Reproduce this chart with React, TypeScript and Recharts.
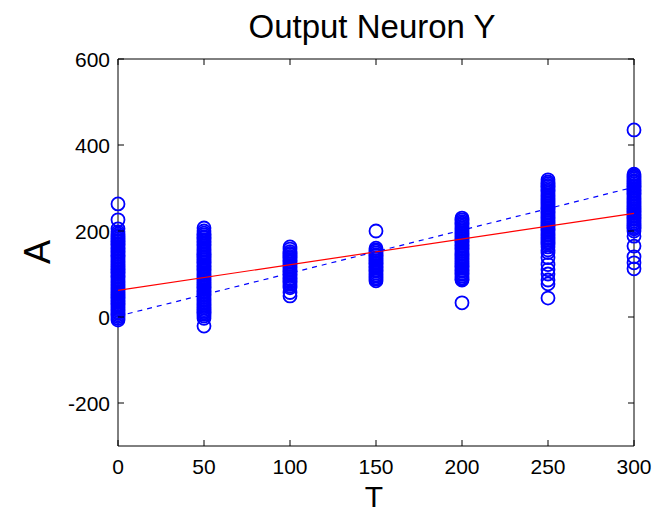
import { ScatterChart, Scatter, XAxis, YAxis } from "recharts";

// responses of output neuron Y (A) for each input level T
const tLevels = [0, 50, 100, 150, 200, 250, 300];

const a0 = [263, 226, 205, 198, 193, 189, 186, 182, 178, 175, 171, 168, 164, 160, 157, 153, 150, 146, 142, 139, 135, 131, 128, 124, 121, 117, 113, 110, 106, 103, 99, 95, 92, 88, 84, 81, 77, 74, 70, 66, 63, 59, 56, 52, 48, 45, 41, 37, 34, 30, 27, 23, 19, 16, 12, 9, 5, 1, -3, -7];
const a50 = [207, 200, 195, 191, 187, 184, 180, 176, 173, 169, 166, 162, 158, 155, 151, 147, 144, 140, 137, 133, 129, 126, 122, 118, 115, 111, 108, 104, 100, 97, 93, 89, 86, 82, 79, 75, 71, 68, 64, 60, 57, 53, 50, 46, 42, 39, 35, 31, 28, 24, 21, 17, 13, 10, 6, 2, -3, -21];
const a100 = [163, 158, 152, 148, 145, 141, 138, 134, 130, 127, 123, 119, 116, 112, 109, 105, 101, 98, 94, 90, 87, 83, 80, 76, 72, 68, 57, 49];
const a150 = [200, 160, 156, 153, 149, 145, 142, 138, 135, 131, 127, 124, 120, 116, 113, 109, 106, 102, 98, 95, 91, 88, 84];
const a200 = [230, 226, 222, 218, 215, 211, 207, 204, 200, 196, 193, 189, 186, 182, 178, 175, 171, 167, 164, 160, 157, 153, 149, 146, 142, 138, 135, 131, 128, 124, 120, 117, 113, 109, 106, 102, 99, 95, 91, 88, 86, 33];
const a250 = [319, 314, 310, 306, 303, 299, 295, 292, 288, 284, 281, 277, 273, 270, 266, 263, 259, 255, 252, 248, 244, 241, 237, 233, 230, 226, 223, 219, 215, 212, 208, 204, 201, 197, 193, 190, 186, 183, 179, 175, 172, 168, 163, 156, 150, 138, 122, 110, 100, 86, 77, 44];
const a300 = [435, 332, 328, 325, 321, 317, 314, 310, 306, 303, 299, 295, 292, 288, 285, 281, 277, 274, 270, 266, 263, 259, 256, 252, 248, 245, 241, 237, 234, 230, 227, 223, 219, 216, 212, 208, 205, 200, 188, 165, 140, 126, 112];

const responses = [a0, a50, a100, a150, a200, a250, a300];

// linear fit (red) and identity A = T (blue dashed)
const lineT = [0, 300];
const fitA = [62, 241];
const identA = [2, 302];

const xTicks = [0, 50, 100, 150, 200, 250, 300];
const yTicks = [-200, 0, 200, 400, 600];

const points = tLevels.flatMap((t, i) => responses[i].map((a) => ({ t, a })));
const fitLine = lineT.map((t, i) => ({ t, a: fitA[i] }));
const identLine = lineT.map((t, i) => ({ t, a: identA[i] }));

const FONT = "'Liberation Sans', Arial, Helvetica, sans-serif";
const TICK = 6;

const BottomTick = ({ x, y, payload }: any) => (
    <g>
        <line x1={x} y1={y} x2={x} y2={y - TICK} stroke="#000" />
        <text x={x} y={y + 28} textAnchor="middle" fontSize={21} fontFamily={FONT} fill="#000">
            {payload.value}
        </text>
    </g>
);

const TopTick = ({ x, y }: any) => <line x1={x} y1={y} x2={x} y2={y + TICK} stroke="#000" />;

const LeftTick = ({ x, y, payload }: any) => (
    <g>
        <line x1={x} y1={y} x2={x + TICK} y2={y} stroke="#000" />
        <text x={x - 8} y={y + 8} textAnchor="end" fontSize={21} fontFamily={FONT} fill="#000">
            {payload.value}
        </text>
    </g>
);

const RightTick = ({ x, y }: any) => <line x1={x} y1={y} x2={x - TICK} y2={y} stroke="#000" />;

// open circle marker, thick enough that dense columns read as solid
const Ring = ({ cx, cy }: any) => (
    <circle cx={cx} cy={cy} r={6.5} fill="none" stroke="#0000ff" strokeWidth={1.8} />
);

const NoDot = () => <g />;

export default function App() {
    return (
        <div style={{ position: "absolute", left: 0, top: 0, width: 667, height: 514, background: "#fff" }}>
            <ScatterChart width={667} height={514} margin={{ top: 58, right: 0, bottom: 0, left: 0 }}>
                <XAxis
                    xAxisId="b"
                    dataKey="t"
                    type="number"
                    domain={[0, 300]}
                    ticks={xTicks}
                    tickSize={0}
                    tickMargin={0}
                    height={68}
                    stroke="#000"
                    tick={<BottomTick />}
                    interval={0}
                />
                <XAxis
                    xAxisId="top"
                    orientation="top"
                    dataKey="t"
                    type="number"
                    domain={[0, 300]}
                    ticks={xTicks}
                    tickSize={0}
                    tickMargin={0}
                    height={1}
                    stroke="#000"
                    tick={<TopTick />}
                    interval={0}
                />
                <YAxis
                    yAxisId="l"
                    dataKey="a"
                    type="number"
                    domain={[-300, 600]}
                    ticks={yTicks}
                    tickSize={0}
                    tickMargin={0}
                    width={118}
                    stroke="#000"
                    tick={<LeftTick />}
                    interval={0}
                />
                <YAxis
                    yAxisId="r"
                    orientation="right"
                    dataKey="a"
                    type="number"
                    domain={[-300, 600]}
                    ticks={yTicks}
                    tickSize={0}
                    tickMargin={0}
                    width={33}
                    stroke="#000"
                    tick={<RightTick />}
                    interval={0}
                />
                <Scatter xAxisId="b" yAxisId="l" data={points} shape={<Ring />} isAnimationActive={false} />
                <Scatter
                    xAxisId="b"
                    yAxisId="l"
                    data={fitLine}
                    line={{ stroke: "#ff0000", strokeWidth: 1.2 }}
                    shape={<NoDot />}
                    isAnimationActive={false}
                />
                <Scatter
                    xAxisId="top"
                    yAxisId="r"
                    data={identLine}
                    line={{ stroke: "#0000ff", strokeWidth: 1.2, strokeDasharray: "5 5" }}
                    shape={<NoDot />}
                    isAnimationActive={false}
                />
            </ScatterChart>
            <svg width={667} height={514} style={{ position: "absolute", left: 0, top: 0, pointerEvents: "none" }}>
                <text x={372} y={38} textAnchor="middle" fontSize={33} fontFamily={FONT} fill="#000">
                    Output Neuron Y
                </text>
                <text x={374} y={507} textAnchor="middle" fontSize={30} fontFamily={FONT} fill="#000">
                    T
                </text>
                <text
                    x={50}
                    y={252}
                    textAnchor="middle"
                    fontSize={36}
                    fontFamily={FONT}
                    fill="#000"
                    transform="rotate(-90, 50, 252)"
                >
                    A
                </text>
            </svg>
        </div>
    );
}
